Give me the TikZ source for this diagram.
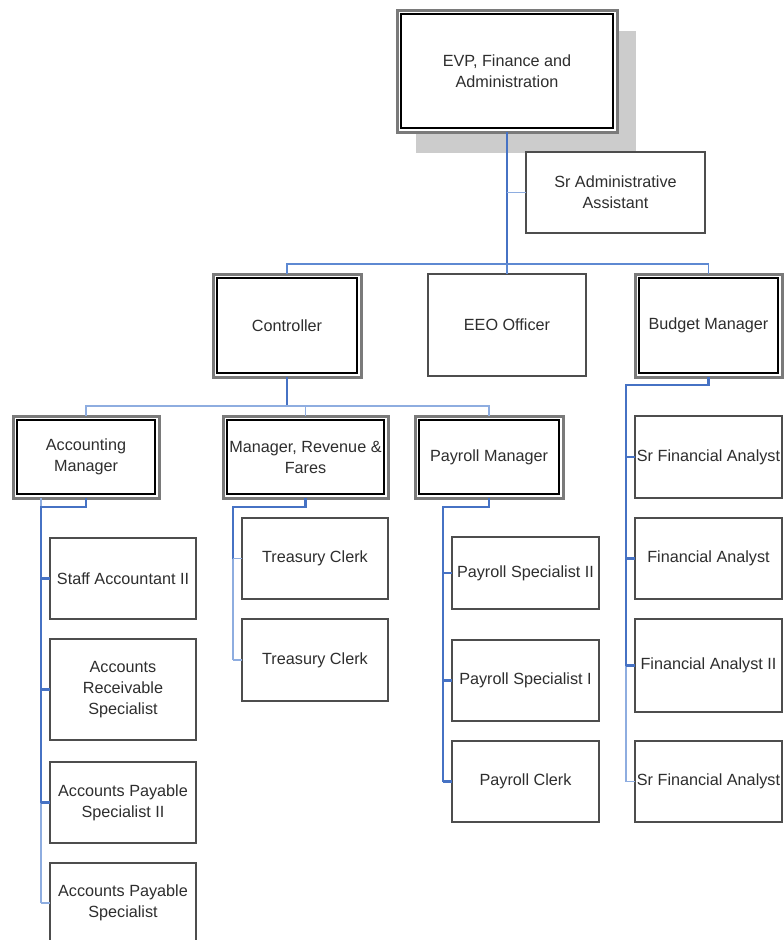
\documentclass[tikz,border=0pt]{standalone}
\usepackage{fontspec}
\setmainfont{Liberation Sans}
\usetikzlibrary{shadows}

\definecolor{txt}{HTML}{2E2E2E}
\definecolor{boxline}{HTML}{4D4D4D}
\definecolor{frameouter}{HTML}{7A7A7A}
\definecolor{shadowgray}{HTML}{CCCCCC}
\definecolor{trunkblue}{HTML}{4672C4}
\definecolor{barblue}{HTML}{5E89D2}
\definecolor{twigblue}{HTML}{8EADE0}

\tikzset{
  base/.style={rectangle, inner sep=0pt, outer sep=0pt, align=center,
    text=txt, fill=white, font=\fontsize{16.2}{21}\selectfont},
  plainbox/.style={base, draw=boxline, line width=1.8pt},
  dblbox/.style={base, draw=frameouter, line width=3pt,
    path picture={\draw[black, line width=1.5pt]
      ([shift={(4pt,-4pt)}]path picture bounding box.north west) rectangle
      ([shift={(-4pt,4pt)}]path picture bounding box.south east);}},
  sz/.style 2 args={minimum width=#1pt, minimum height=#2pt},
  trunk/.style={draw=trunkblue, line width=2.2pt},
  bar/.style={draw=barblue, line width=1.8pt},
  twig/.style={draw=twigblue, line width=1.6pt},
}

\begin{document}
\begin{tikzpicture}[x=1pt, y=-1pt]
  \useasboundingbox (0,0) rectangle (784,940);
  \fill[white] (0,0) rectangle (784,940);
  \clip (0,0) rectangle (784,940);

  % junction rows of the connector tree
  \coordinate (j0) at (507,264);
  \coordinate (j1) at (287,406);
  \coordinate (accJ) at (41,507);
  \coordinate (mrfJ) at (233,507);
  \coordinate (payJ) at (443,507);
  \coordinate (budJ) at (626,385);

  % top of the chart
  \node[dblbox, sz={220}{122}, drop shadow={shadow xshift=19pt, shadow yshift=-21pt,
        fill=shadowgray, opacity=1}] (evp) at (507,71) {EVP, Finance and\\Administration};
  \node[plainbox, sz={179}{81}] (sra) at (615.5,192.5) {Sr Administrative\\Assistant};

  % first level
  \node[dblbox, sz={148}{103}] (ctl) at (287,325.5) {Controller};
  \node[plainbox, sz={158}{102}] (eeo) at (507,325) {EEO Officer};
  \node[dblbox, sz={147}{103}] (bud) at (708.5,325.5) {Budget Manager};

  % second level under the controller
  \node[dblbox, sz={146}{82}] (acc) at (86,457) {Accounting\\Manager};
  \node[dblbox, sz={165}{82}] (mrf) at (305.5,457) {Manager, Revenue \&\\Fares};
  \node[dblbox, sz={148}{82}] (pay) at (489,457) {Payroll Manager};

  % accounting staff
  \node[plainbox, sz={146}{81}] (sa2) at (123,578.5) {Staff Accountant II};
  \node[plainbox, sz={146}{101}] (ars) at (123,689.5) {Accounts\\Receivable\\Specialist};
  \node[plainbox, sz={146}{81}] (ap2) at (123,802.5) {Accounts Payable\\Specialist II};
  \node[plainbox, sz={146}{80}] (ap) at (123,903) {Accounts Payable\\Specialist};

  % revenue staff
  \node[plainbox, sz={146}{81}] (tc1) at (315,558.5) {Treasury Clerk};
  \node[plainbox, sz={146}{82}] (tc2) at (315,660) {Treasury Clerk};

  % payroll staff
  \node[plainbox, sz={147}{72}] (ps2) at (525.5,573) {Payroll Specialist II};
  \node[plainbox, sz={147}{81}] (ps1) at (525.5,680.5) {Payroll Specialist I};
  \node[plainbox, sz={147}{81}] (prc) at (525.5,781.5) {Payroll Clerk};

  % budget staff
  \node[plainbox, sz={147}{82}] (sf1) at (708.5,457) {Sr Financial Analyst};
  \node[plainbox, sz={147}{81}] (fa) at (708.5,558.5) {Financial Analyst};
  \node[plainbox, sz={147}{93}] (fa2) at (708.5,665.5) {Financial Analyst II};
  \node[plainbox, sz={147}{81}] (sf2) at (708.5,781.5) {Sr Financial Analyst};

  % EVP trunk and assistant
  \draw[trunk] (evp.south) -- (evp.south |- j0);
  \draw[twig] (evp.south |- sra.west) -- (sra.west);

  % first level bar
  \draw[bar] (ctl.north) -- (ctl.north |- j0) -- (bud.north |- j0) -- (bud.north);
  \draw[bar] (eeo.north) -- (eeo.north |- j0);

  % controller to second level
  \draw[trunk] (ctl.south) -- (j1);
  \draw[twig] (acc.north) -- (acc.north |- j1) -- (pay.north |- j1) -- (pay.north);
  \draw[twig] (mrf.north) -- (mrf.north |- j1);

  % accounting manager branch
  \draw[twig] (accJ |- acc.south) -- (accJ);
  \draw[trunk] (acc.south) -- (acc.south |- accJ) -- (accJ) -- (accJ |- ap2.west);
  \draw[twig] (accJ |- ap2.west) -- (accJ |- ap.west);
  \foreach \n in {sa2,ars,ap2} \draw[trunk] (accJ |- \n.west) -- (\n.west);
  \draw[twig] (accJ |- ap.west) -- (ap.west);

  % revenue branch
  \draw[trunk] (mrf.south) -- (mrf.south |- mrfJ) -- (mrfJ) -- (mrfJ |- tc1.west);
  \draw[twig] (mrfJ |- tc1.west) -- (mrfJ |- tc2.west);
  \draw[twig] (mrfJ |- tc1.west) -- (tc1.west);
  \draw[twig] (mrfJ |- tc2.west) -- (tc2.west);

  % payroll branch
  \draw[trunk] (pay.south) -- (pay.south |- payJ) -- (payJ) -- (payJ |- prc.west);
  \foreach \n in {ps2,ps1,prc} \draw[trunk] (payJ |- \n.west) -- (\n.west);

  % budget branch
  \draw[trunk] (bud.south) -- (bud.south |- budJ) -- (budJ) -- (budJ |- fa2.west);
  \draw[twig] (budJ |- fa2.west) -- (budJ |- sf2.west);
  \foreach \n in {sf1,fa,fa2} \draw[trunk] (budJ |- \n.west) -- (\n.west);
  \draw[twig] (budJ |- sf2.west) -- (sf2.west);
\end{tikzpicture}
\end{document}
